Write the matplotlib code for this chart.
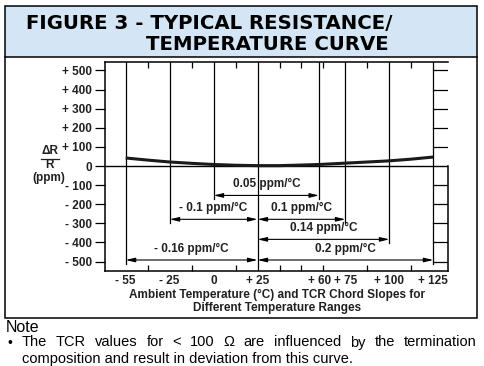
import matplotlib
matplotlib.use("Agg")
import matplotlib.pyplot as plt
from matplotlib.patches import Rectangle
from matplotlib.lines import Line2D
import numpy as np

plt.rcParams['font.family'] = ['Liberation Sans', 'DejaVu Sans']

# curve (temperature in degC, delta R/R in ppm)
curve_t = [-55, -40, -25, -12.5, 0, 12.5, 25, 37.5, 50, 60, 75, 87.5, 100, 112.5, 125]
curve_ppm = [42, 31, 21, 14, 8, 4, 2, 2, 5, 8, 15, 21, 27, 36, 47]

# chord slopes: start temp, end temp, label
chord_lo = [0, -25, 25, 25, -55, 25]
chord_hi = [60, 25, 75, 100, 25, 125]
chord_label = ['0.05 ppm/°C', '- 0.1 ppm/°C', '0.1 ppm/°C', '0.14 ppm/°C',
               '- 0.16 ppm/°C', '0.2 ppm/°C']

x_ticks = [-55, -25, 0, 25, 60, 75, 100, 125]
x_labels = ['- 55', '- 25', '0', '+ 25', '+ 60', '+ 75', '+ 100', '+ 125']
minor_t = [-55, -40, -25, -12.5, 0, 12.5, 25, 37.5, 50, 60, 62.5, 75, 87.5, 100, 112.5, 125]
y_ticks = [500, 400, 300, 200, 100, 0, -100, -200, -300, -400, -500]

INK = '#231f20'
W, H = 484, 366


def fwd(t):
    t = np.asarray(t, dtype=float)
    return np.where(t >= -25, t, -25 + (t + 25) * 25 / 30)


def inv(p):
    p = np.asarray(p, dtype=float)
    return np.where(p >= -25, p, -25 + (p + 25) * 30 / 25)


def fx(x):
    return x / W


def fy(y):
    return 1 - y / H


fig = plt.figure(figsize=(4.84, 3.66), dpi=100)

# outer frame and title box
fig.patches.append(Rectangle((fx(5), fy(57.3)), fx(476.7) - fx(5), fy(6) - fy(57.3),
                             transform=fig.transFigure, facecolor='#d4e6f5',
                             edgecolor='none', zorder=0))
fig.patches.append(Rectangle((fx(5), fy(317.7)), fx(476.7) - fx(5), fy(6) - fy(317.7),
                             transform=fig.transFigure, facecolor='none',
                             edgecolor='black', lw=1.1, zorder=1))
fig.lines.append(Line2D([fx(5), fx(476.7)], [fy(57.3), fy(57.3)],
                        transform=fig.transFigure, color='black', lw=1.1))
fig.text(fx(26), fy(23.5), 'FIGURE 3 - TYPICAL RESISTANCE/', fontsize=14.2,
         fontweight='bold', family='DejaVu Sans', color='black', va='center', ha='left')
fig.text(fx(146), fy(45), 'TEMPERATURE CURVE', fontsize=14.2,
         fontweight='bold', family='DejaVu Sans', color='black', va='center', ha='left')

ax = fig.add_axes([fx(105), fy(270.7), fx(448.3) - fx(105), fy(61.7) - fy(270.7)])
ax.set_xscale('function', functions=(fwd, inv))
ax.set_xlim(-69.1, 133.5)
ax.set_ylim(-548, 546)

ax.plot(curve_t, curve_ppm, color='#1a1a1a', lw=2.2, solid_capstyle='butt', zorder=3)
ax.axhline(0, color='black', lw=1.0, zorder=2)

# dimension rows (ppm level of each arrow)
rows = [-154, -279, -279, -384, -492, -492]
line_bottom = {}
for lo, hi, r in zip(chord_lo, chord_hi, rows):
    for t in (lo, hi):
        line_bottom[t] = min(line_bottom.get(t, 0), r - 20)
line_bottom[25] = -548

for t in x_ticks:
    ax.plot([t, t], [546, line_bottom[t]], color='black', lw=0.9, zorder=2)

for lo, hi, r, lab in zip(chord_lo, chord_hi, rows, chord_label):
    ax.annotate('', xy=(hi, r), xytext=(lo, r),
                arrowprops=dict(arrowstyle='<|-|>,head_length=0.55,head_width=0.13',
                                color='black', lw=0.8, shrinkA=0, shrinkB=0))
    xm = inv((fwd(lo) + fwd(hi)) / 2)
    ax.text(float(xm), r + 60, lab, ha='center', va='center', fontsize=8.5,
            fontweight='bold', color=INK)

for s in ax.spines.values():
    s.set_linewidth(1.1)
ax.spines['right'].set_bounds(-548, 0)

ax.set_yticks(y_ticks)
ax.set_yticklabels(['0' if v == 0 else ('+ %d' % v if v > 0 else '- %d' % -v) for v in y_ticks],
                   fontsize=8.5, fontweight='bold', color=INK)
ax.tick_params(axis='y', which='major', direction='out', length=7.5, width=0.9, pad=2,
               right=False)
ax.set_xticks(x_ticks)
ax.set_xticklabels(x_labels, fontsize=8.5, fontweight='bold', color=INK)
ax.set_xticks(minor_t, minor=True)
ax.tick_params(axis='x', which='major', length=0, pad=3)
ax.tick_params(axis='x', which='minor', direction='in', length=4.2, width=0.9,
               top=True, bottom=True)

# right-hand inward ticks, from the +125 line to the frame
for v in y_ticks:
    if v != 0:
        ax.plot([125, 133.5], [v, v], color='black', lw=0.9, zorder=2)

# y label
fig.text(fx(50), fy(151), 'ΔR', fontsize=8.5, fontweight='bold', color=INK,
         ha='center', va='center')
fig.lines.append(Line2D([fx(41), fx(59)], [fy(158.5), fy(158.5)],
                        transform=fig.transFigure, color=INK, lw=0.9))
fig.text(fx(50), fy(165.5), 'R', fontsize=8.5, fontweight='bold', color=INK,
         ha='center', va='center')
fig.text(fx(49), fy(178), '(ppm)', fontsize=8.5, fontweight='bold', color=INK,
         ha='center', va='center')

fig.text(fx(277), fy(295), 'Ambient Temperature (°C) and TCR Chord Slopes for',
         fontsize=8.5, fontweight='bold', color=INK, ha='center', va='center')
fig.text(fx(277), fy(308), 'Different Temperature Ranges',
         fontsize=8.5, fontweight='bold', color=INK, ha='center', va='center')

# note
fig.text(fx(6), fy(328), 'Note', fontsize=11.5, color='black', ha='left', va='center')
fig.text(fx(7), fy(342.5), '•', fontsize=10, color='black', ha='left', va='center')

renderer = fig.canvas.get_renderer()
words = 'The TCR values for < 100 Ω are influenced by the termination'.split(' ')
x0, x1 = 21.7, 476.5
items = [fig.text(0, fy(342.5), w, fontsize=10.5, color='black', ha='left', va='center')
         for w in words]
widths = [it.get_window_extent(renderer).width for it in items]
gap = (x1 - x0 - sum(widths)) / (len(words) - 1)
x = x0
for it, w in zip(items, widths):
    it.set_x(fx(x))
    x += w + gap
fig.text(fx(21.7), fy(359), 'composition and result in deviation from this curve.',
         fontsize=10.5, color='black', ha='left', va='center')

fig.savefig('out.png', dpi=100)
